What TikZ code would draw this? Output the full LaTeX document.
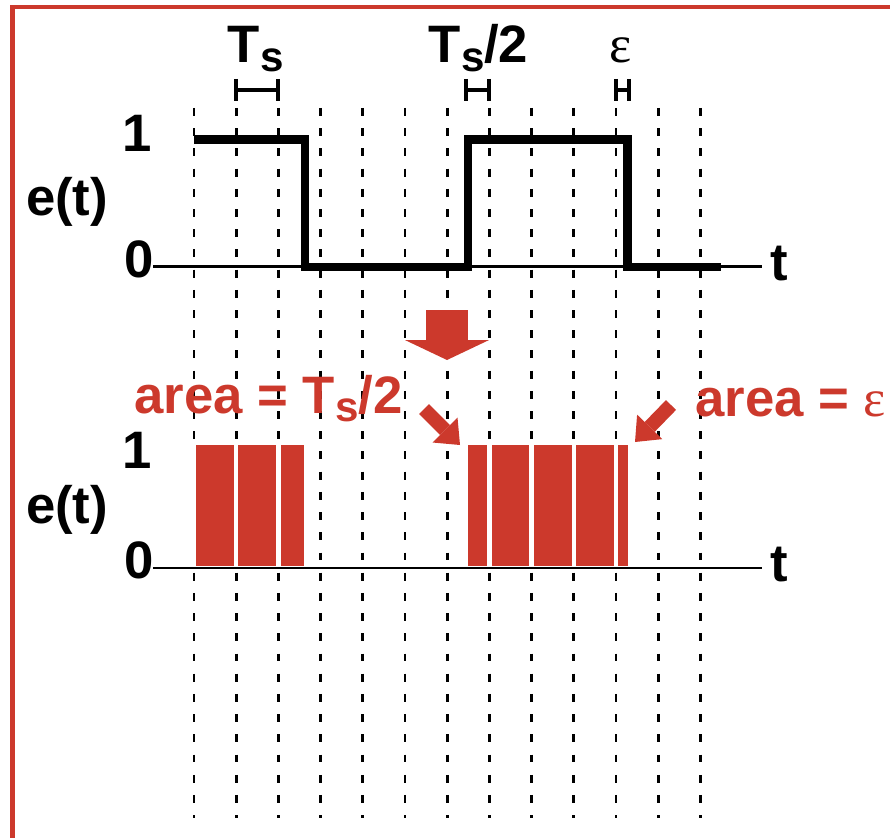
\documentclass[tikz,border=0pt]{standalone}
\usepackage{fontspec}
\setmainfont{Liberation Sans}
\newfontfamily\grk{Liberation Serif}
\usetikzlibrary{arrows.meta}
\definecolor{sigred}{RGB}{204,57,44}
\newcommand{\Tsub}{T\kern0.5pt\raisebox{-5pt}{\fontsize{24}{24}\selectfont s}}

\begin{document}
\begin{tikzpicture}[
    x=0.02cm, y=-0.02cm,
    lbl/.style={font=\fontsize{30}{36}\selectfont\bfseries, inner sep=0pt},
    redlbl/.style={lbl, text=sigred},
    grid/.style={line width=1.5pt, dash pattern=on 4.5pt off 7pt},
    axis/.style={line width=1.3pt},
    signal/.style={line width=4.6pt},
    bar/.style={fill=sigred, draw=white, line width=2.6pt},
    brk/.style={line width=2.8pt},
    bigarrow/.style={sigred, line width=23.8pt, -{Triangle[width=47.6pt,length=11.3pt,line width=0pt]}},
    smallarrow/.style={sigred, line width=8pt, -{Triangle[width=20pt,length=12pt,line width=0pt]}}
]
    \useasboundingbox (0,0) rectangle (890,838);
    \draw[sigred, line width=2.4pt] (12.5,838) -- (12.5,7) -- (890,7);

    \foreach \i in {0,...,12}
        \draw[grid] ({194+42.2*\i},108) -- ({194+42.2*\i},818);

    \draw[axis] (153,266.5) -- (762,266.5);
    \draw[signal] (194,139.5) -- (305,139.5) -- (305,267) -- (468,267) -- (468,139.5)
        -- (627.5,139.5) -- (627.5,267) -- (721,267);

    \foreach \a/\b in {194/236.2,236.2/278.4,278.4/306,466/489.4,489.4/531.6,531.6/573.8,573.8/616,616/630}
        \draw[bar] (\a,443) rectangle (\b,568);
    \draw[axis] (153,568) -- (762,568);

    \foreach \a/\b in {236/278,466/489,616/629}
        \draw[brk] (\a,79) -- (\a,101) (\a,90) -- (\b,90) (\b,79) -- (\b,101);

    \node (ts) [lbl, anchor=base west] at (227,63) {\Tsub};
    \node (tshalf) [lbl, anchor=base west] at (428,63) {\Tsub\kern-0.5pt/2};
    \node (eps) [lbl, anchor=base] at (620.5,63) {\grk\mdseries ε};

    \node (one1) [lbl, anchor=base] at (137,152) {1};
    \node (e1) [lbl, anchor=base] at (67,215) {e(t)};
    \node (zero1) [lbl, anchor=base] at (139.5,277) {0};
    \node (t1) [lbl, anchor=base] at (779.5,280) {t};

    \node (one2) [lbl, anchor=base] at (137,468) {1};
    \node (e2) [lbl, anchor=base] at (67,523) {e(t)};
    \node (zero2) [lbl, anchor=base] at (139.5,578) {0};
    \node (t2) [lbl, anchor=base] at (779.5,581) {t};

    \node (areal) [redlbl, anchor=base west] at (134,413) {area = \Tsub\kern-0.5pt/2};
    \node (arear) [redlbl, anchor=base west] at (695,416) {area = {\grk\mdseries ε}};

    \coordinate (bt) at (447,310);
    \coordinate (bh) at (447,360);
    \coordinate (lt) at (424,409);
    \coordinate (lh) at (460,445);
    \coordinate (rt) at (671,405);
    \coordinate (rh) at (635,442);
    \draw[bigarrow] (bt) -- (bh);
    \draw[smallarrow] (lt) -- (lh);
    \draw[smallarrow] (rt) -- (rh);
\end{tikzpicture}
\end{document}
